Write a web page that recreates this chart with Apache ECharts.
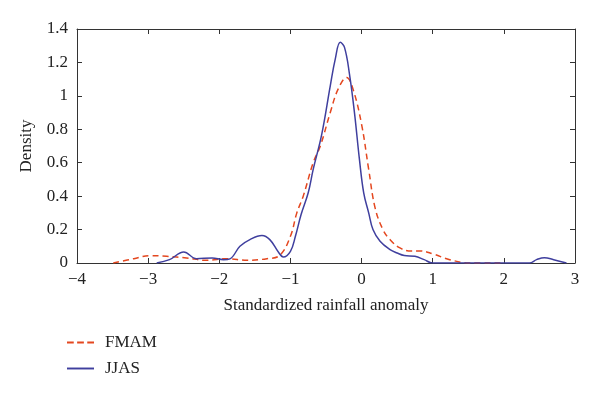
<!DOCTYPE html>
<html>
<head>
<meta charset="utf-8">
<script src="https://cdn.jsdelivr.net/npm/echarts@6/dist/echarts.min.js"></script>
<style>
  html, body { margin: 0; padding: 0; background: #fff; }
  #chart { width: 600px; height: 396px; }
</style>
</head>
<body>
<div id="chart"></div>
<script>
// FMAM density curve (dashed, red)
const fmamX = [-3.49, -3.2, -2.97, -2.74, -2.46, -2.18, -1.89, -1.61, -1.33, -1.15, -1.0, -0.91, -0.82, -0.68, -0.58, -0.44, -0.33, -0.21, -0.12, 0.0, 0.1, 0.19, 0.3, 0.4, 0.54, 0.7, 0.82, 1.0, 1.24, 1.52, 2.0]
const fmamY = [0, 0.026, 0.044, 0.04, 0.03, 0.016, 0.026, 0.016, 0.026, 0.046, 0.16, 0.3, 0.4, 0.6, 0.7, 0.9, 1.04, 1.11, 1.04, 0.83, 0.56, 0.33, 0.2, 0.14, 0.09, 0.072, 0.072, 0.055, 0.02, 0, 0]
// JJAS density curve (solid, blue)
const jjasX = [-2.88, -2.7, -2.5, -2.32, -2.1, -1.94, -1.85, -1.71, -1.57, -1.4, -1.29, -1.17, -1.1, -1.0, -0.93, -0.85, -0.75, -0.68, -0.56, -0.44, -0.37, -0.3, -0.24, -0.17, -0.1, -0.03, 0.03, 0.1, 0.16, 0.26, 0.4, 0.5, 0.6, 0.75, 0.88, 1.0, 2.36, 2.46, 2.57, 2.7, 2.88]
const jjasY = [0, 0.02, 0.066, 0.026, 0.03, 0.02, 0.025, 0.1, 0.14, 0.164, 0.14, 0.066, 0.036, 0.07, 0.16, 0.29, 0.42, 0.56, 0.77, 1.06, 1.22, 1.32, 1.29, 1.13, 0.9, 0.62, 0.42, 0.3, 0.2, 0.13, 0.08, 0.06, 0.045, 0.04, 0.02, 0, 0, 0.02, 0.032, 0.02, 0]

const xTicks = [-4, -3, -2, -1, 0, 1, 2, 3]
const yTicks = [0, 0.2, 0.4, 0.6, 0.8, 1, 1.2, 1.4]

const font = 'Liberation Serif'
const fontSize = 17
const axisColor = '#333'
const textColor = '#222'
const redColor = '#E4471F'
const blueColor = '#3F3F9E'

const chart = echarts.init(document.getElementById('chart'))

const zip = (xs, ys) => xs.map((x, i) => [x, ys[i]])

const baseAxis = {
  type: 'value',
  axisLine: { show: true, onZero: false, lineStyle: { color: axisColor, width: 1 } },
  axisTick: { show: true, inside: true, length: 5, lineStyle: { color: axisColor } },
  splitLine: { show: false }
}

chart.setOption({
  animation: false,
  textStyle: { fontFamily: font },
  grid: { left: 77, right: 25, top: 29, bottom: 133 },
  xAxis: [
    Object.assign({}, baseAxis, {
      min: -4, max: 3, interval: 1,
      position: 'bottom',
      name: 'Standardized rainfall anomaly',
      nameLocation: 'middle',
      nameGap: 34,
      nameTextStyle: { fontFamily: font, fontSize: fontSize, color: textColor },
      axisLabel: {
        fontFamily: font, fontSize: fontSize, color: textColor, margin: 8,
        formatter: v => xTicks.includes(v) ? String(v).replace('-', '\u2212') : ''
      }
    }),
    Object.assign({}, baseAxis, {
      min: -4, max: 3, interval: 1,
      position: 'top',
      axisLabel: { show: false }
    })
  ],
  yAxis: [
    Object.assign({}, baseAxis, {
      min: 0, max: 1.4, interval: 0.2,
      position: 'left',
      name: 'Density',
      nameLocation: 'middle',
      nameGap: 42,
      nameTextStyle: { fontFamily: font, fontSize: fontSize, color: textColor },
      axisLabel: {
        fontFamily: font, fontSize: fontSize, color: textColor, margin: 9,
        formatter: v => {
          const t = yTicks.find(k => Math.abs(k - v) < 1e-6)
          return t === undefined ? '' : String(t)
        }
      }
    }),
    Object.assign({}, baseAxis, {
      min: 0, max: 1.4, interval: 0.2,
      position: 'right',
      axisLabel: { show: false }
    })
  ],
  legend: {
    orient: 'vertical',
    left: 67,
    top: 334,
    padding: 0,
    itemWidth: 27,
    itemHeight: 2,
    itemGap: 9,
    textStyle: { fontFamily: font, fontSize: fontSize, color: textColor, padding: [0, 0, 0, 6] },
    data: [
      { name: 'FMAM', icon: 'path://M0,0h7v2h-7z M10.5,0h7v2h-7z M21,0h7v2h-7z', itemStyle: { color: redColor } },
      { name: 'JJAS', icon: 'path://M0,0h28v2h-28z', itemStyle: { color: blueColor } }
    ]
  },
  series: [
    {
      name: 'FMAM',
      type: 'line',
      data: zip(fmamX, fmamY),
      smooth: 0.4,
      symbol: 'none',
      lineStyle: { color: redColor, width: 1.5, type: [6, 4] },
      itemStyle: { color: redColor }
    },
    {
      name: 'JJAS',
      type: 'line',
      data: zip(jjasX, jjasY),
      smooth: 0.4,
      symbol: 'none',
      lineStyle: { color: blueColor, width: 1.5 },
      itemStyle: { color: blueColor }
    }
  ]
})
</script>
</body>
</html>
